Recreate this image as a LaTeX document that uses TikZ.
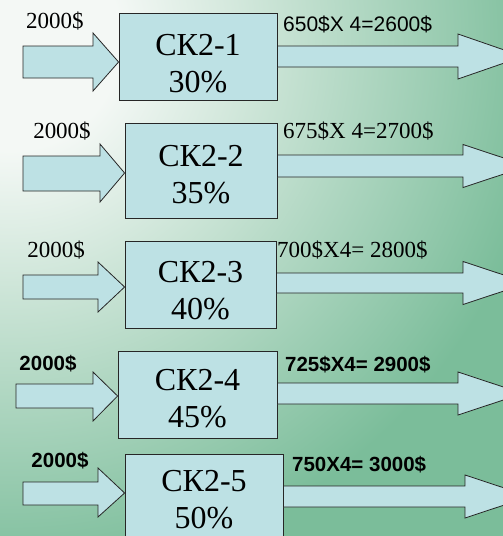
\documentclass[tikz,border=0pt]{standalone}
\usepackage{fontspec}
\setmainfont{Liberation Serif}
\newfontfamily\arialfont{Liberation Sans}
\definecolor{bglight}{HTML}{F4F8F5}
\definecolor{bggreen}{HTML}{7BBD9A}
\definecolor{boxfill}{HTML}{BDE1E4}
\pgfdeclareradialshading{bgglow}{\pgfpoint{0bp}{0bp}}{color(0bp)=(bglight); color(110bp)=(bglight); color(540bp)=(bggreen); color(800bp)=(bggreen)}
\begin{document}
\begin{tikzpicture}[x=1pt, y=-1pt,
        kbox/.style={draw=black!85, fill=boxfill, line width=0.8pt, inner sep=0pt},
        ktext/.style={align=center, inner sep=0pt, font=\fontsize{32}{37}\selectfont},
        barrow/.style={draw=black!85, fill=boxfill, line width=0.8pt, line join=miter},
        tlabel/.style={inner sep=0pt, font=\fontsize{23}{26}\selectfont},
        alabel/.style={inner sep=0pt, font=\arialfont\fontsize{21}{24}\selectfont},
        blabel/.style={inner sep=0pt, font=\arialfont\bfseries\fontsize{20.5}{24}\selectfont}]
        \useasboundingbox (0,0) rectangle (503,536);
        \clip (0,0) rectangle (503,536);

        % background
        \fill[bggreen] (0,0) rectangle (503,536);
        \node[inner sep=0pt] (glow) at (10,40) {\pgfuseshading{bgglow}};

        % row 1
        \node[kbox, minimum width=158pt, minimum height=87pt] (sk1) at (198,56.5) {};
        \node[ktext] (sk1t) at (198,64) {СК2-1\\30\%};
        \draw[barrow] (23,46) -- (93,46) -- (93,33) -- (sk1.west |- 0,62) -- (93,91) -- (93,78) -- (23,78) -- cycle;
        \draw[barrow] (sk1.east |- 0,46) -- (458,46) -- (458,34) -- (523,56.5) -- (458,79) -- (458,67) -- (sk1.east |- 0,67) -- cycle;
        \node[tlabel] (in1) at (55,21) {2000\$};
        \node[alabel, anchor=west] (out1) at (283,24) {650\$X 4=2600\$};

        % row 2
        \node[kbox, minimum width=152pt, minimum height=95pt] (sk2) at (201,170.5) {};
        \node[ktext] (sk2t) at (201,175) {СК2-2\\35\%};
        \draw[barrow] (23,156) -- (100,156) -- (100,144) -- (sk2.west |- 0,173) -- (100,202) -- (100,191) -- (23,191) -- cycle;
        \draw[barrow] (sk2.east |- 0,155) -- (463,155) -- (463,144.5) -- (528,166) -- (463,187.5) -- (463,177) -- (sk2.east |- 0,177) -- cycle;
        \node[tlabel] (in2) at (62,131) {2000\$};
        \node[tlabel, anchor=west] (out2) at (283,131) {675\$X 4=2700\$};

        % row 3
        \node[kbox, minimum width=151pt, minimum height=87pt] (sk3) at (200.5,284.5) {};
        \node[ktext] (sk3t) at (200.5,291) {СК2-3\\40\%};
        \draw[barrow] (23,275) -- (98,275) -- (98,262) -- (sk3.west |- 0,287) -- (98,312) -- (98,299) -- (23,299) -- cycle;
        \draw[barrow] (sk3.east |- 0,273) -- (463,273) -- (463,261.5) -- (528,283) -- (463,304.5) -- (463,293) -- (sk3.east |- 0,293) -- cycle;
        \node[tlabel] (in3) at (56,250) {2000\$};
        \node[tlabel, anchor=west] (out3) at (277,250) {700\$X4= 2800\$};

        % row 4
        \node[kbox, minimum width=159pt, minimum height=87pt] (sk4) at (197.5,394.5) {};
        \node[ktext] (sk4t) at (197.5,398.5) {СК2-4\\45\%};
        \draw[barrow] (16,384) -- (93,384) -- (93,372) -- (sk4.west |- 0,396) -- (93,421) -- (93,408) -- (16,408) -- cycle;
        \draw[barrow] (sk4.east |- 0,383) -- (458,383) -- (458,372) -- (523,393.5) -- (458,415) -- (458,404) -- (sk4.east |- 0,404) -- cycle;
        \node[blabel] (in4) at (48,364) {2000\$};
        \node[blabel, anchor=west] (out4) at (285,365) {725\$X4= 2900\$};

        % row 5
        \node[kbox, minimum width=158pt, minimum height=87pt] (sk5) at (204,497.5) {};
        \node[ktext] (sk5t) at (204,500) {СК2-5\\50\%};
        \draw[barrow] (23,482) -- (98,482) -- (98,468) -- (sk5.west |- 0,493) -- (98,517) -- (98,505) -- (23,505) -- cycle;
        \draw[barrow] (sk5.east |- 0,486) -- (465,486) -- (465,475) -- (530,496.5) -- (465,518) -- (465,507) -- (sk5.east |- 0,507) -- cycle;
        \node[blabel] (in5) at (60,461) {2000\$};
        \node[blabel, anchor=west] (out5) at (292,465) {750X4= 3000\$};
\end{tikzpicture}
\end{document}
